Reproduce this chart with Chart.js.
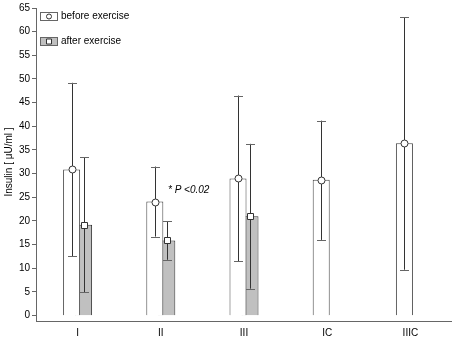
<!DOCTYPE html>
<html lang="en">
<head>
    <meta charset="UTF-8">
    <title>Insulin before / after exercise</title>
    <style>
        body { margin: 0; background: #fff; }
        #wrap { width: 452px; height: 338px; }
    </style>
    <script src="https://cdn.jsdelivr.net/npm/chart.js"></script>
</head>
<body>
    <div id="wrap"><canvas id="chart" width="452" height="338"></canvas></div>
    <script>
        // values
        const groups = ['I', 'II', 'III', 'IC', 'IIIC'];
        const beforeMean = [30.9, 24.1, 29.0, 28.7, 36.4];
        const beforeLow = [12.6, 16.7, 11.5, 16.0, 9.7];
        const beforeHigh = [49.2, 31.5, 46.5, 41.2, 63.0];
        const afterMean = [19.2, 15.9, 21.0, null, null];
        const afterLow = [4.9, 11.8, 5.7, null, null];
        const afterHigh = [33.5, 19.9, 36.3, null, null];
        const yTicks = [0, 5, 10, 15, 20, 25, 30, 35, 40, 45, 50, 55, 60, 65];
        const seriesNames = ['before exercise', 'after exercise'];
        const note = '* P <0.02';

        const FONT = 'Arial, "Liberation Sans", sans-serif';

        // error bars, markers, legend and the note
        const extras = {
            id: 'extras',
            afterDatasetsDraw(chart) {
                const ctx = chart.ctx;
                const y = chart.scales.y;
                const ranges = [[beforeLow, beforeHigh], [afterLow, afterHigh]];
                ctx.save();
                chart.data.datasets.forEach((ds, i) => {
                    const meta = chart.getDatasetMeta(i);
                    meta.data.forEach((bar, j) => {
                        if (ds.data[j] == null) return;
                        const x = Math.round(bar.x) + 0.5;
                        const top = y.getPixelForValue(ranges[i][1][j]);
                        const bot = y.getPixelForValue(ranges[i][0][j]);
                        ctx.strokeStyle = '#333';
                        ctx.lineWidth = 1;
                        ctx.beginPath();
                        ctx.moveTo(x, top);
                        ctx.lineTo(x, bot);
                        ctx.stroke();
                        ctx.strokeStyle = '#666';
                        ctx.beginPath();
                        ctx.moveTo(x - 4.5, Math.round(top) + 0.5);
                        ctx.lineTo(x + 4.5, Math.round(top) + 0.5);
                        ctx.moveTo(x - 4.5, Math.round(bot) + 0.5);
                        ctx.lineTo(x + 4.5, Math.round(bot) + 0.5);
                        ctx.stroke();
                        // marker
                        const my = Math.round(y.getPixelForValue(ds.data[j])) + 0.5;
                        ctx.fillStyle = '#fff';
                        ctx.strokeStyle = '#333';
                        ctx.beginPath();
                        if (i === 0) ctx.arc(x, my, 3.5, 0, Math.PI * 2);
                        else ctx.rect(x - 3, my - 3, 6, 6);
                        ctx.fill();
                        ctx.stroke();
                    });
                });

                // legend
                ctx.font = '10px ' + FONT;
                ctx.textBaseline = 'middle';
                seriesNames.forEach((name, i) => {
                    const by = 12 + i * 25;
                    ctx.fillStyle = i === 0 ? '#fff' : '#c0c0c0';
                    ctx.strokeStyle = '#666';
                    ctx.fillRect(40, by, 17, 8);
                    ctx.strokeRect(40.5, by + 0.5, 17, 8);
                    ctx.fillStyle = '#fff';
                    ctx.strokeStyle = '#333';
                    ctx.beginPath();
                    if (i === 0) ctx.arc(49, by + 4.5, 2.5, 0, Math.PI * 2);
                    else ctx.rect(46.5, by + 2, 5, 5);
                    ctx.fill();
                    ctx.stroke();
                    ctx.fillStyle = '#000';
                    ctx.fillText(name, 61, by + 4.5);
                });

                // significance note
                ctx.font = 'italic 10px ' + FONT;
                ctx.fillText(note, 168, y.getPixelForValue(26.5));

                // y axis title
                ctx.translate(9, 162);
                ctx.rotate(-Math.PI / 2);
                ctx.textAlign = 'center';
                ctx.font = '10px ' + FONT;
                ctx.fillText('Insulin [ \u03BCU/ml ]', 0, 0);
                ctx.restore();
            }
        };

        new Chart(document.getElementById('chart'), {
            type: 'bar',
            data: {
                labels: groups,
                datasets: [
                    {
                        label: seriesNames[0],
                        data: beforeMean,
                        backgroundColor: '#fff',
                        borderColor: '#444',
                        borderWidth: 1
                    },
                    {
                        label: seriesNames[1],
                        data: afterMean,
                        backgroundColor: '#c0c0c0',
                        borderColor: '#333',
                        borderWidth: 1
                    }
                ]
            },
            options: {
                responsive: false,
                animation: false,
                categoryPercentage: 0.288,
                barPercentage: 1.42,
                layout: { padding: { top: 6, right: 0, left: 0, bottom: 0 } },
                plugins: { legend: { display: false }, tooltip: { enabled: false } },
                scales: {
                    x: {
                        grid: { display: false, drawTicks: false },
                        border: { color: '#666', width: 1 },
                        ticks: { color: '#000', font: { size: 10, family: FONT }, padding: 6 },
                        afterFit(scale) { scale.height = 17; }
                    },
                    y: {
                        min: -1.13,
                        max: 65,
                        afterBuildTicks(scale) { scale.ticks = yTicks.map(v => ({ value: v })); },
                        grid: { drawOnChartArea: false, tickLength: 4, color: '#666' },
                        border: { color: '#666', width: 1 },
                        ticks: { color: '#000', font: { size: 10, family: FONT }, padding: 2 },
                        afterFit(scale) { scale.width = 36; }
                    }
                }
            },
            plugins: [extras]
        });
    </script>
</body>
</html>
